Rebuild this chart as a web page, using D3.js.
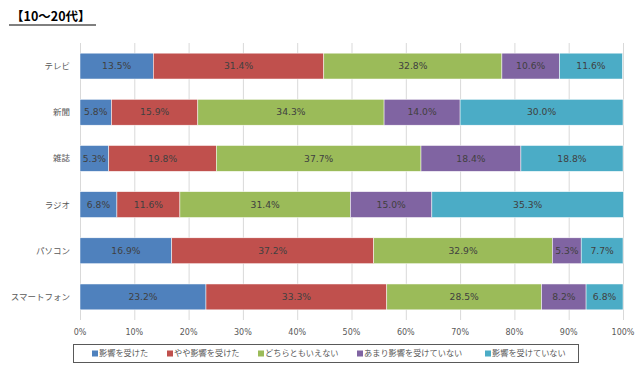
<!DOCTYPE html>
<html>
<head>
<meta charset="utf-8">
<script src="https://cdn.jsdelivr.net/npm/d3@7"></script>
<style>
  body { margin: 0; background: #fff; }
  svg { display: block; font-family: "Noto Sans CJK JP", "DejaVu Sans", sans-serif; }
</style>
</head>
<body>
<svg width="640" height="366"></svg>
<script>
var categories = ["テレビ", "新聞", "雑誌", "ラジオ", "パソコン", "スマートフォン"];
var seriesNames = ["影響を受けた", "やや影響を受けた", "どちらともいえない", "あまり影響を受けていない", "影響を受けていない"];
var colors = ["#4F81BD", "#C0504D", "#9BBB59", "#8064A2", "#4BACC6"];
var s1 = [13.5, 5.8, 5.3, 6.8, 16.9, 23.2];
var s2 = [31.4, 15.9, 19.8, 11.6, 37.2, 33.3];
var s3 = [32.8, 34.3, 37.7, 31.4, 32.9, 28.5];
var s4 = [10.6, 14.0, 18.4, 15.0, 5.3, 8.2];
var s5 = [11.6, 30.0, 18.8, 35.3, 7.7, 6.8];
var ticks = [0, 10, 20, 30, 40, 50, 60, 70, 80, 90, 100];

var allSeries = [s1, s2, s3, s4, s5];
var rows = categories.map(function(c, i) {
    var r = { cat: c };
    seriesNames.forEach(function(n, j) { r[n] = allSeries[j][i]; });
    return r;
});

var svg = d3.select("svg");
var margin = { top: 43, left: 80, right: 17, bottom: 46 };
var width = 640, height = 366;
var numFont = "'DejaVu Sans', Verdana, sans-serif";

let x = d3.scaleLinear()
    .domain([0, 100])
    .range([margin.left, width - margin.right]);

let y = d3.scaleBand()
    .domain(categories)
    .range([margin.top, height - margin.bottom])
    .paddingInner(0.44)
    .paddingOuter(0.22);

// title
svg.append("text")
    .attr("x", 11)
    .attr("y", 21)
    .style("font-size", "12.5px")
    .style("font-weight", "bold")
    .attr("fill", "#000")
    .text("【10〜20代】");
svg.append("line")
    .attr("x1", 9).attr("x2", 96)
    .attr("y1", 25).attr("y2", 25)
    .attr("stroke", "#000").attr("stroke-width", 1);

// grid
svg.append("g").selectAll("line")
    .data(ticks)
    .enter().append("line")
    .attr("x1", function(d) { return x(d) + 0.5; })
    .attr("x2", function(d) { return x(d) + 0.5; })
    .attr("y1", margin.top)
    .attr("y2", height - margin.bottom)
    .attr("stroke", "#d9d9d9")
    .attr("stroke-width", 1);

// x tick labels
svg.append("g").selectAll("text")
    .data(ticks)
    .enter().append("text")
    .attr("x", function(d) { return x(d); })
    .attr("y", 335)
    .attr("text-anchor", "middle")
    .style("font-family", numFont)
    .style("font-size", "8px")
    .attr("fill", "#595959")
    .text(function(d) { return d + "%"; });

// category labels
svg.append("g").selectAll("text")
    .data(categories)
    .enter().append("text")
    .attr("x", 70)
    .attr("y", function(d) { return y(d) + y.bandwidth() / 2; })
    .attr("dy", "0.35em")
    .attr("text-anchor", "end")
    .style("font-size", "8.5px")
    .attr("fill", "#595959")
    .text(function(d) { return d; });

var stacked = d3.stack().keys(seriesNames)(rows);

let layers = svg.append("g").selectAll("g")
    .data(stacked)
    .enter().append("g")
    .attr("fill", function(d, i) { return colors[i]; });

layers.selectAll("rect")
    .data(function(d) { return d; })
    .enter().append("rect")
    .attr("x", function(d) { return x(d[0]); })
    .attr("width", function(d) { return x(d[1]) - x(d[0]); })
    .attr("y", function(d) { return y(d.data.cat); })
    .attr("height", y.bandwidth())
    .attr("stroke", "#fff")
    .attr("stroke-width", 0.5);

layers.selectAll("text")
    .data(function(d) { return d.map(function(p) { p.key = d.key; return p; }); })
    .enter().append("text")
    .attr("x", function(d) { return (x(d[0]) + x(d[1])) / 2; })
    .attr("y", function(d) { return y(d.data.cat) + y.bandwidth() / 2; })
    .attr("dy", "0.35em")
    .attr("text-anchor", "middle")
    .style("font-family", numFont)
    .style("font-size", "9.2px")
    .attr("fill", "#404040")
    .text(function(d) { return d.data[d.key].toFixed(1) + "%"; });

// legend
var legend = svg.append("g");
legend.append("rect")
    .attr("x", 73.5).attr("y", 344.5)
    .attr("width", 505).attr("height", 18)
    .attr("fill", "#fff")
    .attr("stroke", "#595959")
    .attr("stroke-width", 1);

var legendX = [92, 167, 258, 357, 485];
var items = legend.selectAll("g.item")
    .data(seriesNames)
    .enter().append("g")
    .attr("class", "item")
    .attr("transform", function(d, i) { return "translate(" + legendX[i] + ",353.5)"; });
items.append("rect")
    .attr("x", 0).attr("y", -3)
    .attr("width", 6).attr("height", 6)
    .attr("fill", function(d, i) { return colors[i]; });
items.append("text")
    .attr("x", 7)
    .attr("dy", "0.35em")
    .style("font-size", "8.2px")
    .attr("fill", "#595959")
    .text(function(d) { return d; });
</script>
</body>
</html>
